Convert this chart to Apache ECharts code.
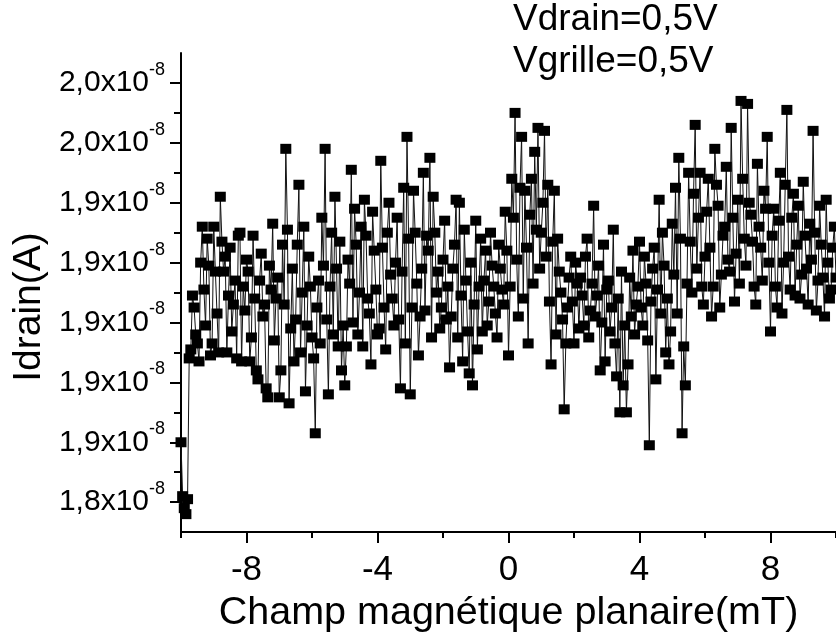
<!DOCTYPE html>
<html>
<head>
<meta charset="utf-8">
<title>Idrain vs champ magnétique planaire</title>
<script src="https://cdn.jsdelivr.net/npm/echarts@6/dist/echarts.min.js"></script>
<style>
  html, body { margin: 0; padding: 0; background: #ffffff; }
  #chart { width: 836px; height: 638px; }
</style>
</head>
<body>
<div id="chart"></div>
<script>
// Field sweep: -10 mT to +10 mT in 0.05 mT steps
const fieldStart = -10;
const fieldStep = 0.05;

// Drain current, in units of 1e-8 A, one value per field step
const idrainSweepA = [ // -10.00 .. -5.05 mT
  1.860, 1.842, 1.838, 1.836, 1.841, 1.888, 1.891, 1.909, 1.905, 1.896,
  1.893, 1.887, 1.920, 1.932, 1.911, 1.899, 1.928, 1.919, 1.889, 1.893,
  1.932, 1.917, 1.903, 1.890, 1.942, 1.927, 1.917, 1.922, 1.890, 1.909,
  1.925, 1.897, 1.906, 1.914, 1.888, 1.929, 1.930, 1.887, 1.912, 1.904,
  1.921, 1.917, 1.887, 1.895, 1.929, 1.908, 1.884, 1.881, 1.914, 1.923,
  1.902, 1.906, 1.878, 1.875, 1.919, 1.911, 1.933, 1.894, 1.908, 1.915,
  1.875, 1.884, 1.926, 1.906, 1.958, 1.931, 1.873, 1.898, 1.918, 1.887,
  1.901, 1.926, 1.946, 1.890, 1.910, 1.932, 1.877, 1.899, 1.922, 1.912,
  1.895, 1.888, 1.863, 1.905, 1.914, 1.893, 1.935, 1.919, 1.958, 1.901,
  1.876, 1.912, 1.930, 1.896, 1.942, 1.918, 1.892, 1.927, 1.884, 1.899
];
const idrainSweepB = [ // -5.00 .. -0.05 mT
  1.879, 1.892, 1.921, 1.913, 1.951, 1.900, 1.938, 1.926, 1.896, 1.910,
  1.932, 1.892, 1.941, 1.929, 1.908, 1.903, 1.886, 1.937, 1.924, 1.911,
  1.896, 1.898, 1.954, 1.925, 1.905, 1.891, 1.930, 1.940, 1.916, 1.908,
  1.899, 1.920, 1.935, 1.901, 1.878, 1.917, 1.945, 1.893, 1.962, 1.928,
  1.876, 1.905, 1.944, 1.930, 1.913, 1.889, 1.902, 1.918, 1.950, 1.904,
  1.929, 1.924, 1.955, 1.895, 1.942, 1.930, 1.910, 1.917, 1.898, 1.905,
  1.921, 1.934, 1.901, 1.912, 1.885, 1.902, 1.918, 1.926, 1.941, 1.895,
  1.940, 1.909, 1.887, 1.931, 1.914, 1.897, 1.883, 1.920, 1.879, 1.906,
  1.934, 1.891, 1.912, 1.928, 1.897, 1.914, 1.924, 1.899, 1.907, 1.930,
  1.919, 1.912, 1.903, 1.895, 1.926, 1.918, 1.911, 1.906, 1.937, 1.924
];
const idrainSweepC = [ // 0.00 .. 4.95 mT
  1.889, 1.912, 1.948, 1.935, 1.970, 1.921, 1.902, 1.945, 1.962, 1.908,
  1.944, 1.925, 1.893, 1.936, 1.948, 1.913, 1.957, 1.931, 1.965, 1.918,
  1.930, 1.940, 1.964, 1.922, 1.946, 1.907, 1.886, 1.927, 1.944, 1.896,
  1.928, 1.917, 1.910, 1.901, 1.871, 1.893, 1.905, 1.915, 1.922, 1.907,
  1.893, 1.920, 1.913, 1.898, 1.915, 1.909, 1.899, 1.922, 1.928, 1.895,
  1.904, 1.913, 1.939, 1.902, 1.909, 1.919, 1.884, 1.900, 1.926, 1.887,
  1.911, 1.914, 1.897, 1.905, 1.931, 1.893, 1.882, 1.908, 1.870, 1.917,
  1.879, 1.899, 1.870, 1.886, 1.915, 1.902, 1.924, 1.896, 1.906, 1.912,
  1.927, 1.905, 1.899, 1.922, 1.913, 1.894, 1.859, 1.907, 1.918, 1.925,
  1.881, 1.911, 1.941, 1.903, 1.930, 1.919, 1.890, 1.908, 1.886, 1.897
];
const idrainSweepD = [ // 5.00 .. 10.00 mT
  1.933, 1.916, 1.945, 1.903, 1.955, 1.928, 1.863, 1.892, 1.879, 1.913,
  1.950, 1.927, 1.910, 1.943, 1.966, 1.918, 1.935, 1.950, 1.912, 1.906,
  1.922, 1.937, 1.948, 1.925, 1.902, 1.912, 1.958, 1.946, 1.939, 1.905,
  1.916, 1.929, 1.932, 1.952, 1.921, 1.917, 1.965, 1.935, 1.907, 1.923,
  1.941, 1.913, 1.974, 1.948, 1.928, 1.919, 1.973, 1.940, 1.936, 1.927,
  1.912, 1.906, 1.953, 1.932, 1.925, 1.914, 1.944, 1.938, 1.962, 1.920,
  1.897, 1.929, 1.938, 1.912, 1.905, 1.934, 1.950, 1.903, 1.920, 1.946,
  1.971, 1.922, 1.911, 1.935, 1.943, 1.909, 1.926, 1.939, 1.908, 1.916,
  1.947, 1.929, 1.918, 1.906, 1.933, 1.921, 1.964, 1.930, 1.904, 1.914,
  1.939, 1.926, 1.915, 1.902, 1.941, 1.920, 1.908, 1.911, 1.925, 1.932,
  1.915
];

// Axis ticks
const xMajorTicks = [-8, -4, 0, 4, 8];
const xMinorTicks = [-10, -6, -2, 2, 6, 10];
const yMajorTicks = [1.84, 1.86, 1.88, 1.90, 1.92, 1.94, 1.96, 1.98];
const yMinorTicks = [1.85, 1.87, 1.89, 1.91, 1.93, 1.95, 1.97];

const annotations = ['Vdrain=0,5V', 'Vgrille=0,5V'];

const FONT = '"Liberation Sans", Arial, Helvetica, sans-serif';

const idrain = [].concat(idrainSweepA, idrainSweepB, idrainSweepC, idrainSweepD);
const points = idrain.map((v, i) => [Number((fieldStart + i * fieldStep).toFixed(2)), v]);

const chart = echarts.init(document.getElementById('chart'), null, { renderer: 'canvas' });

const hidden = { show: false };
const tickStyle = { color: '#000', width: 2 };

chart.setOption({
  backgroundColor: '#ffffff',
  animation: false,
  grid: { left: 181, top: 53, width: 660, height: 485, containLabel: false },
  xAxis: [
    {
      type: 'value', min: -10, max: 10, position: 'bottom',
      axisLine: { show: true, onZero: false, lineStyle: { color: '#000', width: 2 } },
      axisTick: { show: true, inside: false, length: 11, customValues: xMajorTicks, lineStyle: tickStyle },
      axisLabel: { show: true, customValues: xMajorTicks, margin: 21,
                   color: '#000', fontSize: 35, fontFamily: FONT,
                   formatter: v => String(v) },
      splitLine: hidden,
      name: 'Champ magnétique planaire(mT)',
      nameLocation: 'middle', nameGap: 59,
      nameTextStyle: { color: '#000', fontSize: 39.5, fontFamily: FONT }
    },
    {
      type: 'value', min: -10, max: 10, position: 'bottom',
      axisLine: { show: false, onZero: false },
      axisLabel: hidden, splitLine: hidden,
      axisTick: { show: true, inside: false, length: 6, customValues: xMinorTicks, lineStyle: tickStyle }
    }
  ],
  yAxis: [
    {
      type: 'value', min: 1.83, max: 1.99, position: 'left',
      axisLine: { show: true, onZero: false, lineStyle: { color: '#000', width: 2 } },
      axisTick: { show: true, inside: false, length: 11, customValues: yMajorTicks, lineStyle: tickStyle },
      axisLabel: {
        show: true, customValues: yMajorTicks, margin: 16,
        formatter: v => '{m|' + v.toFixed(1).replace('.', ',') + 'x10}{e|-8}',
        rich: {
          m: { fontSize: 30, fontFamily: FONT, color: '#000', lineHeight: 44 },
          e: { fontSize: 18, fontFamily: FONT, color: '#000', lineHeight: 18, verticalAlign: 'top' }
        }
      },
      splitLine: hidden
    },
    {
      type: 'value', min: 1.83, max: 1.99, position: 'left',
      axisLine: { show: false, onZero: false },
      axisLabel: hidden, splitLine: hidden,
      axisTick: { show: true, inside: false, length: 7, customValues: yMinorTicks, lineStyle: tickStyle }
    }
  ],
  graphic: [
    {
      type: 'text', x: 29, y: 307, rotation: Math.PI / 2,
      style: { text: 'Idrain(A)', fill: '#000', font: '39px ' + FONT,
               textAlign: 'center', textVerticalAlign: 'middle' }
    },
    {
      type: 'text', x: 513, y: 20,
      style: { text: annotations[0], fill: '#000', font: '37px ' + FONT,
               textAlign: 'left', textVerticalAlign: 'middle' }
    },
    {
      type: 'text', x: 513, y: 62,
      style: { text: annotations[1], fill: '#000', font: '37px ' + FONT,
               textAlign: 'left', textVerticalAlign: 'middle' }
    }
  ],
  series: [
    {
      type: 'line',
      data: points,
      xAxisIndex: 0, yAxisIndex: 0,
      showSymbol: true, showAllSymbol: true,
      symbol: 'rect', symbolSize: [11, 10],
      itemStyle: { color: '#000' },
      lineStyle: { color: '#111', width: 1 },
      clip: false,
      z: 2
    }
  ]
});
</script>
</body>
</html>
